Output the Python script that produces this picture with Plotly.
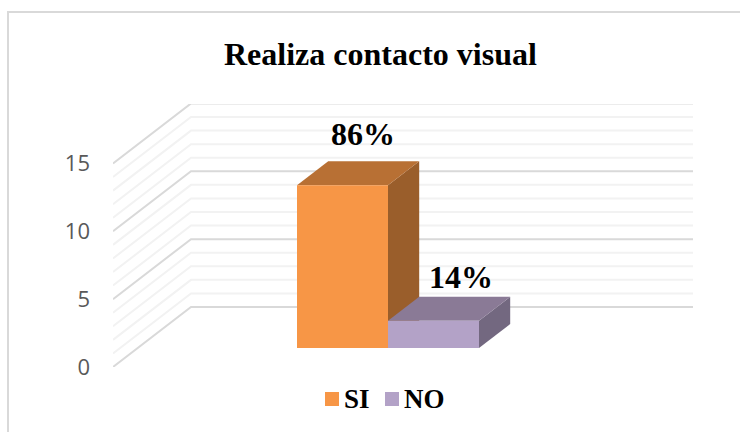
import plotly.graph_objects as go

# chart values
title_text = 'Realiza contacto visual'
series_names = ['SI', 'NO']
series_values = [12, 2]
series_labels = ['86%', '14%']
y_ticks = [0, 5, 10, 15]
grid_values = list(range(0, 16))

front_colors = ['#F79646', '#B3A2C7']
top_colors = ['#B87034', '#8A7A96']
side_colors = ['#9A5E2B', '#736880']

W, H = 740, 432

# pixel box of the front edge of the floor / oblique depth of the walls
PLOT_L, PLOT_R, PLOT_T, PLOT_B = 113, 693, 104, 367
PX_X = 91.0    # one bar wide
PX_Y = 13.57   # one y unit
DEPTH_PX = (78, 60)
BAR_DEPTH = 0.4
BAR_START = 0.317

DX = DEPTH_PX[0] / PX_X
DY = DEPTH_PX[1] / PX_Y
x_min = (PLOT_L - 388) / PX_X
x_max = (PLOT_R - 388) / PX_X
y_max = (PLOT_B - PLOT_T) / PX_Y
domain_x = [PLOT_L / W, PLOT_R / W]
domain_y = [1 - PLOT_B / H, 1 - PLOT_T / H]

fig = go.Figure()

# walls: each gridline runs up the side wall and then along the back wall
for v in grid_values:
    major = v % 5 == 0
    fig.add_trace(go.Scatter(
        x=[x_min, x_min + DX, x_max],
        y=[v, v + DY, v + DY],
        mode='lines',
        line={'color': '#D9D9D9' if major else '#F2F2F2', 'width': 2},
        hoverinfo='skip',
        showlegend=False,
        cliponaxis=False,
    ))

# bars sit part way back on the floor, so the front face is lifted
lift = BAR_START * DY
for i, (name, val) in enumerate(zip(series_names, series_values)):
    left = i - 1
    right = i
    dx, dy = BAR_DEPTH * DX, BAR_DEPTH * DY
    fig.add_trace(go.Scatter(
        x=[right, right + dx, right + dx, right, right],
        y=[lift, lift + dy, lift + val + dy, lift + val, lift],
        mode='lines', fill='toself', fillcolor=side_colors[i],
        line={'color': side_colors[i], 'width': 0},
        hoverinfo='skip', showlegend=False,
    ))
    fig.add_trace(go.Scatter(
        x=[left, right, right + dx, left + dx, left],
        y=[lift + val, lift + val, lift + val + dy, lift + val + dy, lift + val],
        mode='lines', fill='toself', fillcolor=top_colors[i],
        line={'color': top_colors[i], 'width': 0},
        hoverinfo='skip', showlegend=False,
    ))

# front faces on an overlaid axis pair so they stay above the depth faces
for i, (name, val) in enumerate(zip(series_names, series_values)):
    fig.add_trace(go.Bar(
        x=[i - 0.5], y=[val], base=lift, width=1, name=name,
        marker={'color': front_colors[i], 'line': {'width': 0}},
        xaxis='x2', yaxis='y2', showlegend=False,
    ))

label_shift = [(0.225, 3.75), (0.30, 3.25)]
annotations = []
for i, val in enumerate(series_values):
    annotations.append({
        'x': i - 0.5 + label_shift[i][0], 'y': lift + val + label_shift[i][1],
        'xref': 'x2', 'yref': 'y2', 'text': '<b>%s</b>' % series_labels[i],
        'showarrow': False, 'xanchor': 'center', 'yanchor': 'middle',
        'font': {'family': 'Liberation Serif', 'size': 32, 'color': '#000000'},
    })

annotations.append({
    'x': 380 / W, 'y': 1 - 54 / H, 'xref': 'paper', 'yref': 'paper',
    'text': '<b>%s</b>' % title_text, 'showarrow': False,
    'xanchor': 'center', 'yanchor': 'middle',
    'font': {'family': 'Liberation Serif', 'size': 32, 'color': '#000000'},
})

# outer frame: only the top and left edges show, the crop cuts the rest
shapes = [{
    'type': 'path', 'xref': 'paper', 'yref': 'paper',
    'path': 'M %f,0 L %f,%f L 1,%f' % (8 / W, 8 / W, 1 - 12 / H, 1 - 12 / H),
    'line': {'color': '#D9D9D9', 'width': 2}, 'layer': 'below',
}]

# legend by hand, plotly's own swatch-to-text gap is too wide here
legend_x = [325, 385]
for i, name in enumerate(series_names):
    shapes.append({
        'type': 'rect', 'xref': 'paper', 'yref': 'paper',
        'x0': legend_x[i] / W, 'x1': (legend_x[i] + 14) / W,
        'y0': 1 - 406 / H, 'y1': 1 - 392 / H,
        'fillcolor': front_colors[i], 'line': {'width': 0},
    })
    annotations.append({
        'x': (legend_x[i] + 17) / W, 'y': 1 - 399 / H, 'xref': 'paper', 'yref': 'paper',
        'text': '<b>%s</b>' % name, 'showarrow': False,
        'xanchor': 'left', 'yanchor': 'middle',
        'font': {'family': 'Liberation Serif', 'size': 27, 'color': '#000000'},
    })

axis_x = {'range': [x_min, x_max], 'domain': domain_x, 'visible': False,
          'fixedrange': True, 'automargin': False}
fig.update_layout(
    width=W, height=H,
    margin={'l': 0, 'r': 0, 't': 0, 'b': 0, 'pad': 0, 'autoexpand': False},
    paper_bgcolor='#FFFFFF', plot_bgcolor='rgba(0,0,0,0)',
    barmode='overlay',
    showlegend=False,
    xaxis=axis_x,
    xaxis2={**axis_x, 'overlaying': 'x'},
    yaxis={
        'range': [0, y_max], 'domain': domain_y, 'anchor': 'x', 'automargin': False,
        'tickvals': y_ticks, 'showgrid': False, 'zeroline': False,
        'showline': False, 'ticks': '', 'ticklabelstandoff': 22,
        'tickfont': {'family': 'Open Sans', 'size': 22, 'color': '#595959'},
    },
    yaxis2={'range': [0, y_max], 'domain': domain_y, 'overlaying': 'y',
            'visible': False, 'automargin': False},
    annotations=annotations,
    shapes=shapes,
)

fig.write_html('out.html', config={'displayModeBar': False},
               post_script="document.body.style.margin = '0';")
